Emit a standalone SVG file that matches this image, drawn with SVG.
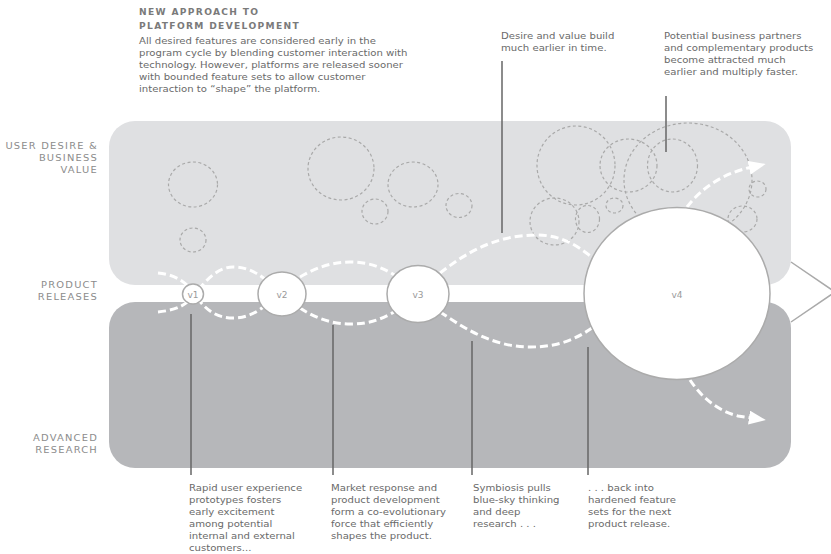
<svg xmlns="http://www.w3.org/2000/svg" width="831" height="554" viewBox="0 0 831 554">
<defs>
<style>
.t{font-family:"DejaVu Sans","Verdana",sans-serif;font-size:9.2px;fill:#6a6a6a}
.h{font-family:"DejaVu Sans","Verdana",sans-serif;font-size:8.3px;font-weight:bold;fill:#7a7a7a;letter-spacing:1.2px}
.lab{font-family:"DejaVu Sans","Verdana",sans-serif;font-size:9px;fill:#8c8c8c;letter-spacing:1.1px;text-anchor:end}
.v{font-family:"DejaVu Sans","Verdana",sans-serif;font-size:9px;fill:#9a9a9a;text-anchor:middle}
.dc{fill:none;stroke:#a9a9a9;stroke-width:1.2;stroke-dasharray:3 2.5}
.wave{fill:none;stroke:#ffffff;stroke-width:3;stroke-dasharray:8 4}
.lead{stroke:#666;stroke-width:1.5}
.node{fill:#ffffff;stroke:#ababab;stroke-width:1.5}
</style>
<marker id="ah" markerUnits="userSpaceOnUse" markerWidth="20" markerHeight="16" refX="3" refY="7" orient="auto">
<path d="M0,0 L17,7 L0,14 z" fill="#ffffff"/>
</marker>
</defs>
<rect width="831" height="554" fill="#ffffff"/>
<g id="bands">
<rect x="109" y="121" width="682" height="164" rx="26" fill="#dfe0e2"/>
<rect x="109" y="121" width="682" height="30" fill="#dfe0e2" opacity="0"/>
<rect x="109" y="302" width="682" height="166" rx="26" fill="#b6b7ba"/>
<polyline points="791,262 835,292 791,322" fill="none" stroke="#aaaaaa" stroke-width="1.5"/>
</g>
<g id="bubbles">
<ellipse class="dc" cx="193" cy="184.5" rx="24.5" ry="22.5"/>
<ellipse class="dc" cx="193" cy="240" rx="13" ry="12"/>
<ellipse class="dc" cx="341" cy="168.5" rx="33" ry="31.5"/>
<ellipse class="dc" cx="375" cy="211.5" rx="13" ry="12.5"/>
<ellipse class="dc" cx="413" cy="184.5" rx="25" ry="22.5"/>
<ellipse class="dc" cx="459" cy="205.5" rx="13" ry="12"/>
<ellipse class="dc" cx="576" cy="165.5" rx="39" ry="39.5"/>
<ellipse class="dc" cx="628.5" cy="165.5" rx="28.5" ry="26.5"/>
<ellipse class="dc" cx="672.5" cy="165.5" rx="25" ry="26.5"/>
<ellipse class="dc" cx="688" cy="180" rx="64" ry="57"/>
<ellipse class="dc" cx="554.5" cy="221.5" rx="24.5" ry="23.5"/>
<ellipse class="dc" cx="587.5" cy="219" rx="12" ry="13.5"/>
<ellipse class="dc" cx="614.5" cy="205.5" rx="8.5" ry="7.5"/>
<ellipse class="dc" cx="757.5" cy="189" rx="8.5" ry="8"/>
<ellipse class="dc" cx="742.5" cy="219" rx="14.5" ry="13"/>
</g>
<g id="connectors">
<line class="lead" x1="502" y1="61" x2="502" y2="233"/>
<line class="lead" x1="666" y1="96" x2="666" y2="152"/>
<line class="lead" x1="191" y1="314" x2="191" y2="475"/>
<line class="lead" x1="333" y1="325" x2="333" y2="475"/>
<line class="lead" x1="472" y1="341" x2="472" y2="475"/>
<line class="lead" x1="588" y1="347" x2="588" y2="475"/>
<path class="wave" d="M158,273 C178,275 188,284 196,296 C206,311 218,318 233,318 C246,318 256,313 266,305"/>
<path class="wave" d="M158,312 C178,310 188,304 196,293 C206,280 218,267 233,267 C246,267 256,272 266,280"/>
<path class="wave" d="M300,277 C315,268 332,262 350,262 C368,262 382,267 396,276"/>
<path class="wave" d="M300,308 C315,318 332,324 350,324 C368,324 380,320 394,312"/>
<path class="wave" d="M440,273 C460,258 490,235 537,235 C560,235 578,245 595,260"/>
<path class="wave" d="M440,312 C460,325 490,347 530,347 C560,347 578,338 595,326"/>
<path class="wave" d="M687,207 C700,190 720,174 752,167" marker-end="url(#ah)"/>
<path class="wave" d="M690,380 C700,395 715,410 738,416 L752,418" marker-end="url(#ah)"/>
</g>
<g id="v1"><ellipse class="node" cx="193" cy="294" rx="10.5" ry="10"/><text class="v" x="193" y="297.5">v1</text></g>
<g id="v2"><ellipse class="node" cx="282" cy="294" rx="24" ry="22"/><text class="v" x="282" y="297.5">v2</text></g>
<g id="v3"><ellipse class="node" cx="418" cy="294" rx="31" ry="28.5"/><text class="v" x="418" y="297.5">v3</text></g>
<g id="v4"><ellipse class="node" cx="677" cy="293.5" rx="93" ry="86"/><text class="v" x="677" y="297.5">v4</text></g>
<g id="labels">
<g transform="translate(98,0) scale(1.1,1)">
<text class="lab" x="0" y="149">USER DESIRE &amp;</text>
<text class="lab" x="0" y="161">BUSINESS</text>
<text class="lab" x="0" y="173">VALUE</text>
<text class="lab" x="0" y="288">PRODUCT</text>
<text class="lab" x="0" y="300">RELEASES</text>
<text class="lab" x="0" y="441">ADVANCED</text>
<text class="lab" x="0" y="453">RESEARCH</text>
</g>
</g>
<g id="title" transform="translate(139,0) scale(1.1,1)">
<text class="h" x="0" y="15">NEW APPROACH TO</text>
<text class="h" x="0" y="29">PLATFORM DEVELOPMENT</text>
<text class="t" x="0" y="44">All desired features are considered early in the</text>
<text class="t" x="0" y="56">program cycle by blending customer interaction with</text>
<text class="t" x="0" y="68">technology.  However, platforms are released sooner</text>
<text class="t" x="0" y="80">with bounded feature sets to allow customer</text>
<text class="t" x="0" y="92">interaction to “shape” the platform.</text>
</g>
<g id="note-desire" transform="translate(501,0) scale(1.1,1)">
<text class="t" x="0" y="39">Desire and value build</text>
<text class="t" x="0" y="51">much earlier in time.</text>
</g>
<g id="note-partners" transform="translate(664,0) scale(1.1,1)">
<text class="t" x="0" y="39">Potential business partners</text>
<text class="t" x="0" y="51">and complementary products</text>
<text class="t" x="0" y="63">become attracted much</text>
<text class="t" x="0" y="75">earlier and multiply faster.</text>
</g>
<g id="note-rapid" transform="translate(189,0) scale(1.1,1)">
<text class="t" x="0" y="491">Rapid user experience</text>
<text class="t" x="0" y="503">prototypes fosters</text>
<text class="t" x="0" y="515">early excitement</text>
<text class="t" x="0" y="527">among potential</text>
<text class="t" x="0" y="539">internal and external</text>
<text class="t" x="0" y="551">customers...</text>
</g>
<g id="note-market" transform="translate(331,0) scale(1.1,1)">
<text class="t" x="0" y="491">Market response and</text>
<text class="t" x="0" y="503">product development</text>
<text class="t" x="0" y="515">form a co-evolutionary</text>
<text class="t" x="0" y="527">force that efficiently</text>
<text class="t" x="0" y="539">shapes the product.</text>
</g>
<g id="note-symbiosis" transform="translate(473,0) scale(1.1,1)">
<text class="t" x="0" y="491">Symbiosis pulls</text>
<text class="t" x="0" y="503">blue-sky thinking</text>
<text class="t" x="0" y="515">and deep</text>
<text class="t" x="0" y="527">research . . .</text>
</g>
<g id="note-back" transform="translate(588,0) scale(1.1,1)">
<text class="t" x="0" y="491">. . . back into</text>
<text class="t" x="0" y="503">hardened feature</text>
<text class="t" x="0" y="515">sets for the next</text>
<text class="t" x="0" y="527">product release.</text>
</g>
</svg>
